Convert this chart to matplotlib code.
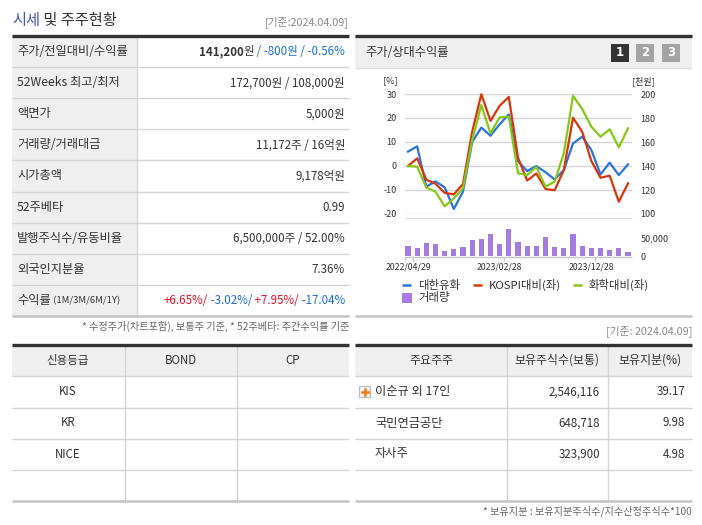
import matplotlib
matplotlib.use('Agg')
import matplotlib.pyplot as plt
from matplotlib.patches import Rectangle

plt.rcParams['font.family'] = ['Noto Sans CJK KR', 'DejaVu Sans']
plt.rcParams['axes.unicode_minus'] = False

# ---- data ----
info_labels = ['주가/전일대비/수익률', '52Weeks 최고/최저', '액면가', '거래량/거래대금', '시가총액',
               '52주베타', '발행주식수/유동비율', '외국인지분율', '수익률']
info_values = [None, '172,700원 / 108,000원', '5,000원', '11,172주 / 16억원', '9,178억원',
               '0.99', '6,500,000주 / 52.00%', '7.36%', None]

blue_vals = [6.0, 8.2, -8.6, -6.4, -8.9, -17.9, -10.7, 10.0, 16.0, 12.6, 17.4, 21.5, 2.0,
             -2.1, 0.0, -2.6, -5.6, -1.7, 9.4, 12.2, 6.7, -3.5, 1.4, -3.8, 0.7]
red_vals = [0.0, 3.2, -5.7, -7.4, -11.2, -11.8, -7.5, 14.3, 29.9, 18.8, 25.1, 28.8, 3.5,
            -6.1, -3.1, -9.6, -10.1, -1.7, 20.1, 14.3, 2.1, -4.9, -4.0, -14.9, -7.2]
green_vals = [0.0, -0.3, -9.0, -10.7, -16.8, -13.5, -9.3, 10.8, 25.4, 13.6, 20.3, 20.6, -3.0,
              -3.8, -0.3, -8.6, -6.5, 5.3, 29.2, 23.8, 16.4, 12.2, 15.3, 7.8, 15.7]
volume = [26400, 22700, 34500, 31800, 12700, 18200, 23600, 42700, 45500, 59100, 31800, 74500, 37300,
          26400, 26400, 50900, 23600, 20900, 59100, 26400, 20900, 20900, 15500, 20900, 10000]
date_labels = ['2022/04/29', '2023/02/28', '2023/12/28']
date_pos = [0, 10, 20]

credit_rows = ['KIS', 'KR', 'NICE', '']
holders = ['이순규 외 17인', '국민연금공단', '자사주']
holder_shares = ['2,546,116', '648,718', '323,900']
holder_pct = ['39.17', '9.98', '4.98']

W, H = 702, 525
TXT = '#333333'
GRID = '#d4d4d4'
HEAD_BG = '#efefef'
BLUE = '#1a6fe0'
RED = '#e0102a'

fig = plt.figure(figsize=(W / 100, H / 100), dpi=100)
bg = fig.add_axes([0, 0, 1, 1])
bg.set_xlim(0, W)
bg.set_ylim(H, 0)
bg.axis('off')
renderer = fig.canvas.get_renderer()


def hline(x0, x1, y, color=GRID, lw=1.0):
    bg.plot([x0, x1], [y, y], color=color, lw=lw, solid_capstyle='butt')


def vline(x, y0, y1, color=GRID, lw=1.0):
    bg.plot([x, x], [y0, y1], color=color, lw=lw, solid_capstyle='butt')


def rich(x, y, parts, size=8.8):
    # parts drawn right to left, right aligned at x
    for txt, col, wt, sz in reversed(parts):
        t = bg.text(x, y, txt, color=col, fontweight=wt, fontsize=sz or size,
                    ha='right', va='center')
        x -= t.get_window_extent(renderer).width


def px_axes(x0, y0, x1, y1):
    return fig.add_axes([x0 / W, 1 - y1 / H, (x1 - x0) / W, (y1 - y0) / H])


# ---- left top: 시세 및 주주현황 ----
t = bg.text(12, 21, '시세', color='#3d55b5', fontsize=11, va='center', ha='left', fontweight='medium')
bg.text(12 + t.get_window_extent(renderer).width, 21, ' 및 주주현황', color=TXT,
        fontsize=11, va='center', ha='left', fontweight='medium')
bg.text(349, 22, '[기준:2024.04.09]', color='#8a8a8a', fontsize=7.8, ha='right', va='center')

top, rh = 36, 31.1
bg.add_patch(Rectangle((12, top), 125, rh * 9, color=HEAD_BG, lw=0))
for i in range(1, 9):
    hline(12, 349, top + rh * i)
vline(137, top, top + rh * 9)
hline(12, 349, top, color='#333333', lw=2.4)
hline(12, 349, top + rh * 9, color='#c4c4c4', lw=1.8)

for i, lab in enumerate(info_labels):
    yc = top + rh * (i + 0.5)
    if i == 8:
        t = bg.text(17, yc, lab, color=TXT, fontsize=8.8, va='center')
        bg.text(17 + t.get_window_extent(renderer).width, yc, ' (1M/3M/6M/1Y)', color=TXT,
                fontsize=6.8, va='center')
    else:
        bg.text(17, yc, lab, color=TXT, fontsize=8.8, va='center')
    if info_values[i] is not None:
        bg.text(345, yc, info_values[i], color=TXT, fontsize=8.3, ha='right', va='center')

rich(345, top + rh * 0.5, [('141,200', TXT, 'bold', 8.3), ('원', TXT, 'normal', 8.3),
                           (' / -800원 / -0.56%', BLUE, 'normal', 8.3)])
rich(345, top + rh * 8.5, [('+6.65%/', RED, 'normal', 8.3), (' -3.02%/', BLUE, 'normal', 8.3),
                           (' +7.95%/', RED, 'normal', 8.3), (' -17.04%', BLUE, 'normal', 8.3)])
bg.text(349, 326, '* 수정주가(차트포함), 보통주 기준, * 52주베타: 주간수익률 기준', color='#666666',
        fontsize=7.3, ha='right', va='center')

# ---- right top: chart panel ----
bg.add_patch(Rectangle((355, 36), 337, 32, color=HEAD_BG, lw=0))
hline(355, 692, 36, color='#333333', lw=2.4)
hline(355, 692, 68, color='#dddddd', lw=1.0)
hline(355, 692, 316, color='#c4c4c4', lw=1.8)
bg.text(365, 53, '주가/상대수익률', color=TXT, fontsize=8.8, va='center')
for k, (bx, col) in enumerate([(611, '#333333'), (636, '#a3a3a3'), (662, '#a3a3a3')]):
    bg.add_patch(Rectangle((bx, 44), 18, 18, color=col, lw=0))
    bg.text(bx + 9, 53, str(k + 1), color='white', fontsize=8.5, fontweight='bold',
            ha='center', va='center', family='DejaVu Sans')
bg.text(390, 81, '[%]', color=TXT, fontsize=6.5, ha='center', va='center')
bg.text(643, 81, '[천원]', color=TXT, fontsize=6.5, ha='center', va='center')

xs = list(range(len(blue_vals)))
xl = (-3 / 9.167, 24 + 4 / 9.167)

ax = px_axes(405, 94, 632, 214)
ax.set_xlim(*xl)
ax.set_ylim(-20, 30)
ax.set_yticks([-20, -10, 0, 10, 20, 30])
for v in [-20, -10, 0, 10, 20, 30]:
    ax.axhline(v, color=GRID, lw=1.0, zorder=0)
ax.plot(xs, blue_vals, color='#2a73e0', lw=1.6, clip_on=False)
ax.plot(xs, red_vals, color='#d8360c', lw=1.6, clip_on=False)
ax.plot(xs, green_vals, color='#86c716', lw=1.6, clip_on=False)
ax.set_xticks([])
for s in ax.spines.values():
    s.set_visible(False)
ax.patch.set_alpha(0)
ax.tick_params(axis='y', length=0, pad=6, labelsize=6.5, labelcolor=TXT)
ax2 = ax.twinx()
ax2.set_ylim(100, 200)
ax2.set_yticks([100, 120, 140, 160, 180, 200])
ax2.tick_params(axis='y', length=0, pad=6, labelsize=6.5, labelcolor=TXT)
for s in ax2.spines.values():
    s.set_visible(False)
hline(405, 632, 217.5, color='#e0e0e0', lw=1.0)

bx = px_axes(405, 218, 632, 256)
bx.set_xlim(*xl)
bx.set_ylim(0, 38 / 18.4 * 50000)
bx.bar(xs, volume, width=0.58, color='#a47bde')
bx.set_xticks([])
for s in bx.spines.values():
    s.set_visible(False)
bx.patch.set_alpha(0)
bx.yaxis.tick_right()
bx.set_yticks([0, 50000])
bx.set_yticklabels(['0', '50,000'])
bx.tick_params(axis='y', length=0, pad=6, labelsize=6.5, labelcolor=TXT)
hline(405, 632, 256.5, color='#c8c8c8', lw=1.0)
for tx in [405, 413, 504, 595]:
    vline(tx, 256.5, 261, color='#c8c8c8', lw=1.0)
for p, lab in zip(date_pos, date_labels):
    bg.text(408 + p * 9.167, 267, lab, color=TXT, fontsize=6.3, ha='center', va='center')

# legend
for lx, col, lab in [(402, '#2a73e0', '대한유화'), (473, '#d8360c', 'KOSPI대비(좌)'),
                     (573, '#86c716', '화학대비(좌)')]:
    hline(lx, lx + 9, 285, color=col, lw=1.8)
    bg.text(lx + 16, 285, lab, color=TXT, fontsize=8.2, va='center')
bg.add_patch(Rectangle((402, 293), 10, 10, color='#a47bde', lw=0))
bg.text(418, 298, '거래량', color=TXT, fontsize=8.2, va='center')

# ---- left bottom: 신용등급 ----
rows_y = [345, 376, 407.5, 438.5, 469.5, 500.5]
bg.add_patch(Rectangle((12, 345), 337, 31, color=HEAD_BG, lw=0))
for y in rows_y[1:-1]:
    hline(12, 349, y)
vline(124.5, 345, 500.5)
vline(236.5, 345, 500.5)
hline(12, 349, 345, color='#333333', lw=2.4)
hline(12, 349, 500.5, color='#c4c4c4', lw=1.8)
for cx, lab in [(68, '신용등급'), (180.5, 'BOND'), (292.5, 'CP')]:
    bg.text(cx, 360.5, lab, color=TXT, fontsize=8.3, ha='center', va='center')
for i, lab in enumerate(credit_rows):
    bg.text(68, (rows_y[i + 1] + rows_y[i + 2]) / 2, lab, color=TXT, fontsize=8.3,
            ha='center', va='center')

# ---- right bottom: 주요주주 ----
bg.text(692, 331, '[기준: 2024.04.09]', color='#8a8a8a', fontsize=7.8, ha='right', va='center')
bg.add_patch(Rectangle((355, 345), 337, 31, color=HEAD_BG, lw=0))
for y in rows_y[1:-1]:
    hline(355, 692, y)
vline(506.5, 345, 500.5)
vline(607.5, 345, 500.5)
hline(355, 692, 345, color='#333333', lw=2.4)
hline(355, 692, 500.5, color='#c4c4c4', lw=1.8)
for cx, lab in [(431, '주요주주'), (557, '보유주식수(보통)'), (649.5, '보유지분(%)')]:
    bg.text(cx, 360.5, lab, color=TXT, fontsize=8.6, ha='center', va='center')
for i in range(len(holders)):
    yc = (rows_y[i + 1] + rows_y[i + 2]) / 2
    bg.text(375, yc, holders[i], color=TXT, fontsize=8.8, va='center')
    bg.text(600, yc, holder_shares[i], color=TXT, fontsize=8.3, ha='right', va='center')
    bg.text(685, yc, holder_pct[i], color=TXT, fontsize=8.3, ha='right', va='center')
# plus icon
y0 = (rows_y[1] + rows_y[2]) / 2
bg.add_patch(Rectangle((359, y0 - 5.5), 11, 11, facecolor='#f4f4f4', edgecolor='#bbbbbb', lw=0.8))
bg.plot([361.5, 367.5], [y0, y0], color='#f07a10', lw=1.8)
bg.plot([364.5, 364.5], [y0 - 3, y0 + 3], color='#f07a10', lw=1.8)
bg.text(692, 511.5, '* 보유지분 : 보유지분주식수/지수산정주식수*100', color='#666666', fontsize=7.3,
        ha='right', va='center')

fig.savefig('out.png', dpi=100)
